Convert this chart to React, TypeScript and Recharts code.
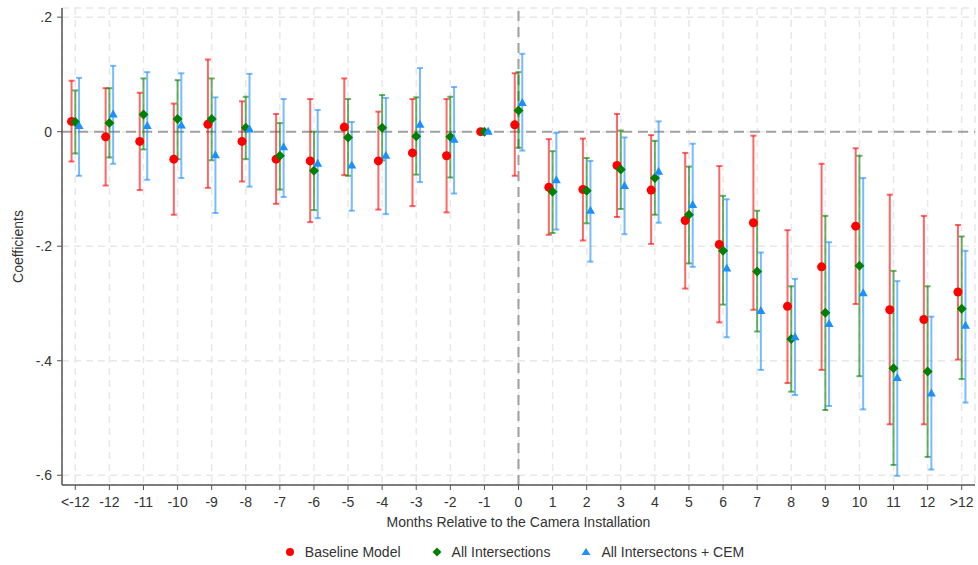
import React from 'react';
import { ScatterChart, Scatter, XAxis, YAxis, CartesianGrid, ReferenceLine, ErrorBar, Legend } from 'recharts';

// month labels, index 0..26
const months = ['<-12', '-12', '-11', '-10', '-9', '-8', '-7', '-6', '-5', '-4', '-3', '-2', '-1',
    '0', '1', '2', '3', '4', '5', '6', '7', '8', '9', '10', '11', '12', '>12'];

// Baseline Model
const baseCoef = [0.018, -0.009, -0.017, -0.048, 0.013, -0.017, -0.048, -0.051, 0.008, -0.051, -0.037, -0.042, 0,
    0.012, -0.097, -0.101, -0.059, -0.102, -0.155, -0.197, -0.159, -0.305, -0.236, -0.165, -0.311, -0.328, -0.280];
const baseLo = [-0.052, -0.094, -0.102, -0.145, -0.098, -0.087, -0.126, -0.158, -0.076, -0.136, -0.130, -0.141, 0,
    -0.077, -0.180, -0.190, -0.149, -0.196, -0.274, -0.333, -0.311, -0.439, -0.416, -0.301, -0.511, -0.511, -0.398];
const baseHi = [0.089, 0.076, 0.068, 0.049, 0.126, 0.053, 0.031, 0.057, 0.093, 0.035, 0.057, 0.057, 0,
    0.102, -0.013, -0.012, 0.031, -0.006, -0.037, -0.060, -0.007, -0.172, -0.056, -0.029, -0.110, -0.147, -0.163];

// All Intersections
const allCoef = [0.017, 0.015, 0.030, 0.022, 0.022, 0.007, -0.042, -0.068, -0.010, 0.007, -0.008, -0.009, 0,
    0.037, -0.105, -0.103, -0.066, -0.081, -0.145, -0.208, -0.244, -0.362, -0.316, -0.234, -0.413, -0.419, -0.309];
const allLo = [-0.038, -0.045, -0.031, -0.048, -0.050, -0.048, -0.101, -0.137, -0.077, -0.050, -0.075, -0.080, 0,
    -0.028, -0.177, -0.160, -0.135, -0.145, -0.230, -0.302, -0.349, -0.454, -0.486, -0.427, -0.582, -0.568, -0.432];
const allHi = [0.072, 0.076, 0.093, 0.090, 0.093, 0.061, 0.015, 0.000, 0.057, 0.064, 0.060, 0.061, 0,
    0.104, -0.034, -0.046, 0.002, -0.016, -0.061, -0.112, -0.138, -0.270, -0.147, -0.042, -0.243, -0.270, -0.183];

// All Intersectons + CEM
const cemCoef = [0.010, 0.030, 0.010, 0.011, -0.041, 0.004, -0.027, -0.056, -0.059, -0.042, 0.012, -0.014, 0,
    0.050, -0.085, -0.138, -0.095, -0.070, -0.128, -0.239, -0.313, -0.359, -0.336, -0.282, -0.430, -0.457, -0.339];
const cemLo = [-0.077, -0.056, -0.084, -0.081, -0.142, -0.096, -0.114, -0.151, -0.138, -0.144, -0.088, -0.108, 0,
    -0.033, -0.171, -0.227, -0.179, -0.159, -0.236, -0.359, -0.416, -0.460, -0.479, -0.485, -0.601, -0.590, -0.473];
const cemHi = [0.094, 0.115, 0.104, 0.102, 0.060, 0.101, 0.057, 0.038, 0.017, 0.059, 0.111, 0.078, 0,
    0.136, -0.002, -0.051, -0.010, 0.018, -0.021, -0.118, -0.211, -0.257, -0.193, -0.081, -0.261, -0.323, -0.208];

const yTicks = [0.2, 0, -0.2, -0.4, -0.6];

const FONT = '"Liberation Sans", Arial, sans-serif';
const RED = '#ff0000';
const GREEN = '#008000';
const BLUE = '#1e8fff';

// build scatter rows, shifted a bit left/right so the three models don't overlap
const buildRows = (coef: number[], lo: number[], hi: number[], shift: number) =>
    coef.map((c, i) => ({ x: i + shift, y: c, err: [c - lo[i], hi[i] - c] }));

const baseRows = buildRows(baseCoef, baseLo, baseHi, -0.11);
const allRows = buildRows(allCoef, allLo, allHi, 0);
const cemRows = buildRows(cemCoef, cemLo, cemHi, 0.11);

const fmtY = (v: number) => {
    if (v === 0) return '0';
    return v.toFixed(1).replace('0.', '.');
};

const Dot = (props: any) => <circle cx={props.cx} cy={props.cy} r={4.5} fill={RED} />;
const Diamond = (props: any) => {
    const { cx, cy } = props;
    return <polygon points={`${cx},${cy - 5} ${cx + 5},${cy} ${cx},${cy + 5} ${cx - 5},${cy}`} fill={GREEN} />;
};
const Tri = (props: any) => {
    const { cx, cy } = props;
    return <polygon points={`${cx},${cy - 5} ${cx + 4.5},${cy + 3} ${cx - 4.5},${cy + 3}`} fill={BLUE} />;
};

const legendItems = [
    { name: 'Baseline Model', icon: <circle cx={5} cy={5} r={4} fill={RED} /> },
    { name: 'All Intersections', icon: <polygon points="5,0.5 9.5,5 5,9.5 0.5,5" fill={GREEN} /> },
    { name: 'All Intersectons + CEM', icon: <polygon points="5,1 9.5,8 0.5,8" fill={BLUE} /> },
];

const renderLegend = () => (
    <div style={{ height: 26, display: 'flex', justifyContent: 'center', alignItems: 'center', paddingLeft: 54, fontFamily: FONT, fontSize: 14, color: '#333' }}>
        {legendItems.map((it, i) => (
            <div key={it.name} style={{ display: 'flex', alignItems: 'center', marginLeft: i === 0 ? 0 : 31 }}>
                <svg width={10} height={10} style={{ marginRight: 10 }}>{it.icon}</svg>
                <span>{it.name}</span>
            </div>
        ))}
    </div>
);

export default function App() {
    const axisStroke = '#555';
    return (
        <div style={{ position: 'absolute', left: 0, top: 0, width: 978, height: 565, background: '#fff' }}>
            <ScatterChart width={978} height={565} margin={{ top: 8, right: 3, bottom: 0, left: 0 }} style={{ fontFamily: FONT }}>
                <CartesianGrid stroke="#e8e8e8" strokeDasharray="7 5" strokeWidth={1.5} />
                <XAxis
                    type="number"
                    dataKey="x"
                    domain={[-0.39, 26.39]}
                    ticks={months.map((_, i) => i)}
                    interval={0}
                    tickFormatter={(v: number) => months[Math.round(v)]}
                    allowDataOverflow
                    height={54}
                    tickSize={5}
                    tickMargin={7}
                    tick={{ fontSize: 14, fill: '#333', fontFamily: FONT }}
                    axisLine={{ stroke: axisStroke, strokeWidth: 1.5 }}
                    tickLine={{ stroke: axisStroke }}
                    label={(p: any) => {
                        const vb = p.viewBox;
                        return (
                            <text x={vb.x + vb.width / 2} y={526.5} textAnchor="middle" fontSize={14} fill="#333" fontFamily={FONT}>
                                Months Relative to the Camera Installation
                            </text>
                        );
                    }}
                />
                <YAxis
                    type="number"
                    dataKey="y"
                    domain={[-0.617, 0.216]}
                    ticks={yTicks}
                    allowDataOverflow
                    width={62}
                    tickSize={5}
                    tickMargin={5}
                    tickFormatter={fmtY}
                    tick={{ fontSize: 14, fill: '#333', fontFamily: FONT }}
                    axisLine={{ stroke: axisStroke, strokeWidth: 1.5 }}
                    tickLine={{ stroke: axisStroke }}
                    label={(p: any) => {
                        const vb = p.viewBox;
                        const cy = vb.y + vb.height / 2;
                        return (
                            <text x={23} y={cy} transform={`rotate(-90, 23, ${cy})`} textAnchor="middle" fontSize={14} fill="#333" fontFamily={FONT}>
                                Coefficients
                            </text>
                        );
                    }}
                />
                <ReferenceLine y={0} stroke="#a0a0a0" strokeWidth={2} strokeDasharray="10 6" />
                <ReferenceLine x={13} stroke="#a0a0a0" strokeWidth={2} strokeDasharray="10 6" />
                <Legend verticalAlign="bottom" content={renderLegend} />
                <Scatter name="Baseline Model" data={baseRows} shape={Dot} isAnimationActive={false}>
                    <ErrorBar dataKey="err" direction="y" width={3} stroke={RED} strokeOpacity={0.6} strokeWidth={2} />
                </Scatter>
                <Scatter name="All Intersections" data={allRows} shape={Diamond} isAnimationActive={false}>
                    <ErrorBar dataKey="err" direction="y" width={3} stroke={GREEN} strokeOpacity={0.6} strokeWidth={2} />
                </Scatter>
                <Scatter name="All Intersectons + CEM" data={cemRows} shape={Tri} isAnimationActive={false}>
                    <ErrorBar dataKey="err" direction="y" width={3} stroke={BLUE} strokeOpacity={0.6} strokeWidth={2} />
                </Scatter>
            </ScatterChart>
        </div>
    );
}
